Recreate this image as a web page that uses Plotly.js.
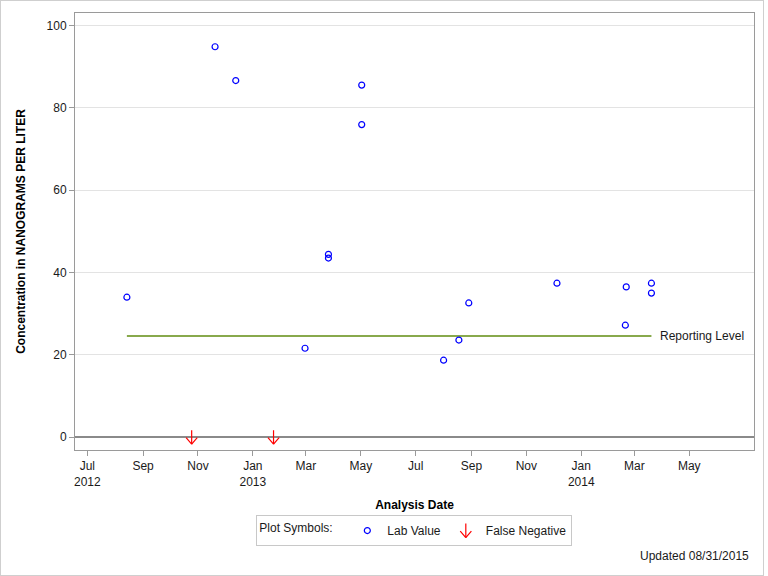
<!DOCTYPE html>
<html>
<head>
<meta charset="utf-8">
<script src="https://cdn.plot.ly/plotly-3.0.1.min.js"></script>
<style>
html,body{margin:0;padding:0;background:#fff;}
#frame{position:absolute;left:0;top:0;width:764px;height:576px;border:1px solid #cfcfcf;box-sizing:border-box;background:#fff;}
#chart{width:762px;height:574px;}
</style>
</head>
<body>
<div id="frame"><div id="chart"></div></div>
<script>
// ---- data ----
const labDates = ['2012-08-14','2012-11-20','2012-12-13','2013-02-28','2013-03-26','2013-03-26','2013-05-02','2013-05-02','2013-08-01','2013-08-18','2013-08-29','2013-12-05','2014-02-20','2014-02-19','2014-03-20','2014-03-20'];
const labValues = [34.0, 94.8, 86.6, 21.6, 44.4, 43.5, 85.5, 75.9, 18.7, 23.6, 32.6, 37.4, 36.5, 27.2, 37.4, 35.0];
const fnDates = ['2012-10-25','2013-01-24'];
const fnValues = [0, 0];
const reportingDates = ['2012-08-14','2014-03-20'];
const reportingValues = [24.6, 24.6];
const xTickDates = ['2012-07-01','2012-09-01','2012-11-01','2013-01-01','2013-03-01','2013-05-01','2013-07-01','2013-09-01','2013-11-01','2014-01-01','2014-03-01','2014-05-01'];
const xTickLabels = ['Jul<br>2012','Sep','Nov','Jan<br>2013','Mar','May','Jul','Sep','Nov','Jan<br>2014','Mar','May'];
const yTickValues = [0, 20, 40, 60, 80, 100];
const yTickLabels = ['0','20','40','60','80','100'];

const FONT = '"Liberation Sans", Arial, Helvetica, sans-serif';
const TXT = '#1a1a1a';
const RED = '#ff0000';

const traces = [
  {
    type: 'scatter', mode: 'lines', x: reportingDates, y: reportingValues,
    line: {color: '#88a94c', width: 2}, showlegend: false, hoverinfo: 'skip'
  },
  {
    type: 'scatter', mode: 'markers', name: 'Lab Value', x: labDates, y: labValues,
    marker: {symbol: 'circle-open', size: 6, color: '#0000ff', line: {color: '#0000ff', width: 1.2}}
  },
  {
    type: 'scatter', mode: 'markers', name: 'False Negative', x: fnDates, y: fnValues,
    marker: {symbol: 'line-ns-open', size: 10, color: RED, line: {color: RED, width: 1.2}}
  }
];

// arrowhead arms (V) for the false-negative markers
function armAnnotation(x, y, xref, yref, dx, yshift) {
  return {
    x: x, y: y, xref: xref, yref: yref, text: '',
    showarrow: true, arrowhead: 0, arrowwidth: 1.2, arrowcolor: RED,
    ax: dx, ay: -7, yshift: yshift, font: {size: 1}, borderpad: 0
  };
}

const annotations = [];
fnDates.forEach(function(d, i) {
  [-6, 6].forEach(function(dx) {
    annotations.push(armAnnotation(d, fnValues[i], 'x', 'y', dx, -7));
  });
});
annotations.push({
  x: reportingDates[reportingDates.length - 1], y: reportingValues[reportingValues.length - 1],
  xref: 'x', yref: 'y', text: 'Reporting Level', showarrow: false,
  xanchor: 'left', yanchor: 'middle', xshift: 7, font: {family: FONT, size: 12, color: TXT}
});
annotations.push({
  x: 1, y: -0.2427, xref: 'paper', yref: 'paper', text: 'Updated 08/31/2015', showarrow: false,
  xanchor: 'right', yanchor: 'middle', xshift: -3, font: {family: FONT, size: 12, color: TXT}
});

const layout = {
  width: 762, height: 574,
  margin: {l: 74, r: 9, t: 12, b: 125, pad: 0},
  paper_bgcolor: '#ffffff', plot_bgcolor: '#ffffff',
  font: {family: FONT, size: 12, color: TXT},
  xaxis: {
    type: 'date', range: ['2012-06-17 08:00', '2014-07-12'],
    tickmode: 'array', tickvals: xTickDates, ticktext: xTickLabels,
    ticks: 'outside', ticklen: 5, tickcolor: '#9a9a9a', tickwidth: 1,
    showgrid: false, zeroline: false,
    showline: true, linecolor: '#9a9a9a', linewidth: 1, mirror: true,
    tickfont: {family: FONT, size: 12, color: TXT},
    title: {text: 'Analysis Date', font: {family: FONT, size: 12, color: '#000', weight: 'bold'}, standoff: 12},
    automargin: false, fixedrange: true
  },
  yaxis: {
    range: [-3.1, 103.0],
    tickmode: 'array', tickvals: yTickValues, ticktext: yTickLabels,
    ticks: 'outside', ticklen: 5, tickcolor: '#9a9a9a', tickwidth: 1,
    showgrid: true, gridcolor: '#e3e3e3', gridwidth: 1,
    zeroline: true, zerolinecolor: '#8a8a8a', zerolinewidth: 2,
    showline: true, linecolor: '#9a9a9a', linewidth: 1, mirror: true,
    tickfont: {family: FONT, size: 12, color: TXT},
    title: {text: 'Concentration in NANOGRAMS PER LITER', font: {family: FONT, size: 12, color: '#000', weight: 'bold'}, standoff: 18},
    automargin: false, fixedrange: true
  },
  showlegend: true,
  legend: {
    orientation: 'h', x: 0.4997, xanchor: 'center', y: -0.1488, yanchor: 'top',
    bordercolor: '#c8c8c8', borderwidth: 1, bgcolor: '#ffffff',
    font: {family: FONT, size: 12, color: TXT},
    title: {text: 'Plot Symbols:  ', side: 'left', font: {family: FONT, size: 12, color: TXT}},
    itemclick: false, itemdoubleclick: false
  },
  annotations: annotations
};

const gd = document.getElementById('chart');
Plotly.newPlot(gd, traces, layout, {displayModeBar: false, staticPlot: true}).then(function() {
  // add the arrowhead arms to the legend's False Negative symbol as well
  const items = gd.querySelectorAll('.legend .traces');
  let sym = null;
  items.forEach(function(it) {
    const t = it.querySelector('.legendtext');
    if (t && t.textContent === 'False Negative') sym = it.querySelector('.legendpoints path');
  });
  if (!sym) return;
  const r = sym.getBoundingClientRect();
  const g = gd.getBoundingClientRect();
  const sz = gd._fullLayout._size;
  const cx = r.left + r.width / 2 - g.left;
  const tipY = r.top + r.height / 2 - g.top;
  const xp = (cx - sz.l) / sz.w;
  const yp = (sz.t + sz.h - tipY) / sz.h;
  const extra = [-6, 6].map(function(dx) { return armAnnotation(xp, yp, 'paper', 'paper', dx, -7); });
  return Plotly.relayout(gd, {annotations: annotations.concat(extra)});
});
</script>
</body>
</html>
